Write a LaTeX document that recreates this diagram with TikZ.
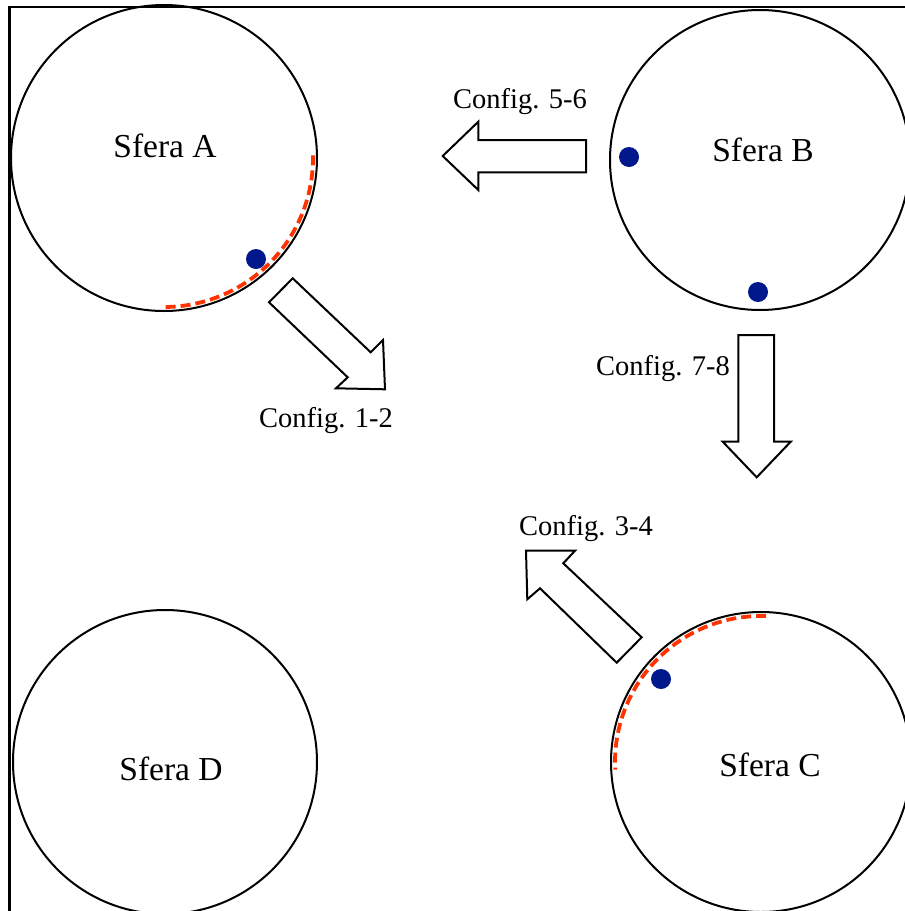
\documentclass[tikz,border=0pt]{standalone}
\usepackage{fontspec}
\setmainfont{Liberation Serif}
\definecolor{dotblue}{RGB}{0,24,140}
\definecolor{arcred}{RGB}{255,51,0}
\begin{document}
\begin{tikzpicture}[x=1pt,y=-1pt,
  sphere/.style={circle, draw=black, line width=2pt, minimum size=#1, inner sep=0pt},
  sferalabel/.style={anchor=base, inner sep=0pt, font=\fontsize{33.5}{40}\selectfont},
  configlabel/.style={anchor=base, inner sep=0pt, font=\fontsize{28.5}{34}\selectfont},
  ball/.style={circle, fill=dotblue, minimum size=20pt, inner sep=0pt},
  redarc/.style={draw=arcred, line width=3.8pt, dash pattern=on 10pt off 5pt},
  blockarrow/.style={draw=black, fill=white, line width=2pt, line join=miter}]
\clip (0,0) rectangle (905,911);
\fill[white] (0,0) rectangle (905,911);
\draw[line width=2.6pt] (9.5,7) rectangle (960,960);

% spheres
\node[sphere=306pt] (A) at (164,158) {};
\node[sphere=300pt] (B) at (760,160) {};
\node[sphere=300pt] (C) at (761,762) {};
\node[sphere=304pt] (D) at (165,762) {};

% labels of spheres
\node[sferalabel] (tA) at (165,157) {Sfera A};
\node[sferalabel] (tB) at (763,161) {Sfera B};
\node[sferalabel] (tC) at (770,776) {Sfera C};
\node[sferalabel] (tD) at (171,780) {Sfera D};

% red dashed arcs
\draw[redarc] ([shift={(1:149pt)}]A.center) arc[start angle=1, end angle=-90, radius=149pt];
\draw[redarc] ([shift={(88:146pt)}]C.center) arc[start angle=88, end angle=183, radius=146pt];

% blue balls
\node[ball] (bA) at (256,259) {};
\node[ball] (bB1) at (629,157) {};
\node[ball] (bB2) at (758,292) {};
\node[ball] (bC) at (661,679) {};

% block arrows
\draw[blockarrow] (292.7,278.3) -- (370.7,352.3) -- (383,340) -- (385,389.3) -- (336,388.3) -- (347.7,377.3) -- (269,302.3) -- cycle;
\draw[blockarrow] (586,140) -- (478.3,140) -- (478.3,121.7) -- (442.7,156) -- (478.3,190) -- (478.3,172.3) -- (586,172.3) -- cycle;
\draw[blockarrow] (738.3,335) -- (774,335) -- (774,441.7) -- (790.7,441.7) -- (756.7,477.3) -- (722.7,441.7) -- (738.3,441.7) -- cycle;
\draw[blockarrow] (641.7,637.3) -- (563.3,563.3) -- (575,550.7) -- (526,550.7) -- (527.3,599.3) -- (540,588.3) -- (616.7,662.7) -- cycle;

% arrow labels
\node[configlabel] (c56) at (520,108) {Config. 5-6};
\node[configlabel] (c12) at (326,427) {Config. 1-2};
\node[configlabel] (c78) at (663,375) {Config. 7-8};
\node[configlabel] (c34) at (586,535) {Config. 3-4};
\end{tikzpicture}
\end{document}
